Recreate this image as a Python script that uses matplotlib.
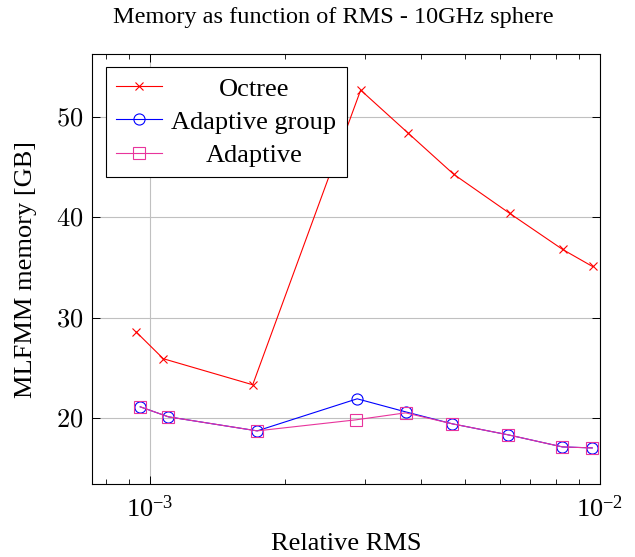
import matplotlib
matplotlib.use("Agg")
import matplotlib.pyplot as plt
from matplotlib.ticker import LogLocator, NullFormatter, FixedLocator, FuncFormatter

plt.rcParams['font.family'] = ['Liberation Serif', 'DejaVu Serif']
plt.rcParams['mathtext.fontset'] = 'cm'

octree_x = [9.30e-4, 1.070e-3, 1.691e-3, 2.938e-3, 3.748e-3, 4.73e-3, 6.30e-3, 8.26e-3, 9.625e-3]
octree_y = [28.6, 25.9, 23.3, 52.7, 48.4, 44.3, 40.4, 36.8, 35.1]

group_x = [9.51e-4, 1.099e-3, 1.730e-3, 2.886e-3, 3.696e-3, 4.70e-3, 6.26e-3, 8.25e-3, 9.61e-3]
group_y = [21.1, 20.1, 18.7, 21.9, 20.6, 19.4, 18.3, 17.1, 17.0]

adapt_x = [9.51e-4, 1.099e-3, 1.730e-3, 2.866e-3, 3.696e-3, 4.70e-3, 6.26e-3, 8.25e-3, 9.61e-3]
adapt_y = [21.1, 20.1, 18.7, 19.8, 20.5, 19.4, 18.3, 17.1, 17.0]

labels = ["Octree", "Adaptive group", "Adaptive"]
y_ticks = [20, 30, 40, 50]

FS = 19

fig = plt.figure(figsize=(6.35, 5.57), dpi=100)
ax = fig.add_axes([92/635, 1-484/557, (600-92)/635, (484-54)/557])

lw = 0.8
ax.plot(octree_x, octree_y, color='red', lw=lw, marker='x', ms=6, mew=0.8, label=labels[0])
ax.plot(group_x, group_y, color='blue', lw=lw, marker='o', ms=8, mfc='none', mew=0.8, label=labels[1])
ax.plot(adapt_x, adapt_y, color='#e8349c', lw=lw, marker='s', ms=8, mfc='none', mew=0.8, label=labels[2])

ax.set_xscale('log')
ax.set_xlim(7.43e-4, 1e-2)
ax.set_ylim(13.4, 56.3)
ax.yaxis.set_major_locator(FixedLocator(y_ticks))
ax.yaxis.set_major_formatter(FuncFormatter(lambda v, p: r"$%d$" % v))
ax.xaxis.set_major_locator(LogLocator(base=10, numticks=10))
ax.xaxis.set_minor_locator(LogLocator(base=10, subs=range(2, 10), numticks=20))
ax.xaxis.set_minor_formatter(NullFormatter())

ax.grid(True, which='major', color='#c0c0c0', lw=0.8)
ax.set_axisbelow(True)
ax.tick_params(which='both', direction='in', top=True, right=True, labelsize=FS)
ax.tick_params(which='major', length=6, width=0.7)
ax.tick_params(which='minor', length=3.5, width=0.6)
ax.tick_params(axis='x', pad=8)
ax.tick_params(axis='y', pad=6)
for s in ax.spines.values():
    s.set_linewidth(0.8)

ax.set_xlabel("Relative RMS", fontsize=FS, labelpad=8)
ax.set_ylabel("MLFMM memory [GB]", fontsize=FS, labelpad=14)
ax.set_title("Memory as function of RMS - 10GHz sphere", fontsize=17.5, pad=22.5, x=0.475)

leg = ax.legend(loc='upper left', bbox_to_anchor=(14/508, 1-13/430), fontsize=FS,
                fancybox=False, edgecolor='black', framealpha=1, handlelength=1.75,
                borderpad=0.38, labelspacing=0.37, handletextpad=0.35, borderaxespad=0)
leg.get_frame().set_linewidth(0.8)

# center legend texts like pgfplots
fig.canvas.draw()
texts = leg.get_texts()
widths = [t.get_window_extent().width for t in texts]
mw = max(widths)
for t, w in zip(texts, widths):
    t.set_position(((mw - w) / 2, 0))

fig.savefig("out.png", dpi=100)
